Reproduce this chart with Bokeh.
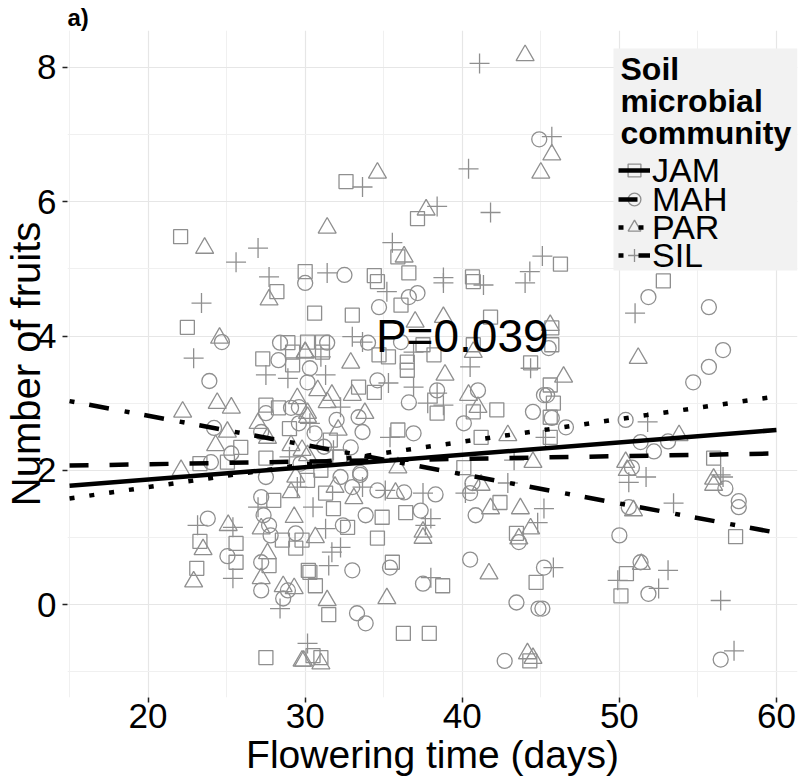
from bokeh.plotting import figure
from bokeh.models import Range1d, FixedTicker, Legend, LegendItem, Label, BoxAnnotation
from bokeh.core.properties import value
from bokeh.embed import file_html
from bokeh.resources import INLINE

FONT = "Liberation Sans"
GRAY = "#8f8f8f"

# ---- data: flowering time (days) vs number of fruits, per soil community ----
jam_x = [22.07, 30.0, 32.6, 37.15, 35.9, 36.6, 46.25, 34.4, 40.65, 22.5, 25.9, 25.05, 23.3, 28.2, 28.9,
         27.3, 29.2, 29.2, 30.15, 27.5, 28.3, 27.5, 34.6, 40.7, 30.6, 33.0, 36.1, 41.8, 31.1, 31.1,
         34.7, 35.3, 37.5, 38.2, 36.5, 36.5, 40.7, 44.35, 33.4, 34.4, 38.4, 42.2, 40.7, 41.2, 35.9,
         40.1, 31.0, 52.8, 45.7, 45.7, 45.6, 45.8, 45.6, 45.6, 56.0, 57.4, 50.45, 50.1, 44.7, 30.15,
         31.3, 42.4, 31.8, 34.9, 36.4, 43.45, 32.7, 29.8, 34.6, 30.3, 30.65, 35.55, 38.75, 31.5, 36.25,
         37.9, 31.0, 30.5, 44.3, 27.5, 23.3, 25.6, 25.6, 23.1, 28.0, 28.55, 29.4, 27.7, 30.2, 31.6,
         29.0, 32.2]
jam_y = [5.48, 4.96, 6.3, 5.75, 5.18, 4.94, 5.07, 4.9, 4.88, 4.13, 2.34, 2.12, 2.1, 4.66, 3.9,
         3.66, 3.76, 3.57, 3.91, 2.97, 2.93, 2.18, 4.81, 4.81, 4.34, 4.31, 4.46, 4.28, 3.91, 3.76,
         3.72, 3.69, 3.87, 3.72, 3.61, 3.49, 3.87, 3.6, 3.24, 3.16, 2.85, 2.9, 2.87, 2.49, 2.6,
         2.04, 2.0, 4.82, 4.12, 3.87, 3.27, 3.0, 2.79, 2.49, 2.18, 1.01, 0.46, 0.13, 0.33, 1.85,
         1.66, 1.52, 1.43, 1.3, 1.37, 1.06, 1.15, 0.96, 0.99, 0.48, 0.28, 0.63, 0.28, -0.15, -0.43,
         -0.43, -0.79, -0.76, -0.84, -0.79, 0.94, 0.91, 0.63, 0.54, 1.55, 0.96, 0.84, 0.58, 0.51, 2.45,
         2.62, 2.2]

mah_x = [32.5, 44.9, 24.7, 23.9, 24.2, 25.3, 24.0, 30.0, 28.4, 28.3, 30.3, 29.1, 29.6, 27.5, 27.2,
         29.6, 29.7, 36.6, 37.15, 34.7, 34.0, 36.1, 31.4, 30.15, 34.6, 38.4, 41.0, 36.6, 40.1, 36.9,
         44.5, 45.2, 33.4, 33.65, 32.9, 33.5, 51.85, 55.7, 45.5, 45.4, 45.7, 46.6, 54.7, 55.7, 56.6,
         50.4, 51.35, 52.2, 53.1, 50.8, 56.75, 57.6, 57.6, 50.6, 50.0, 45.2, 51.35, 51.85, 45.1, 56.45,
         32.25, 33.5, 33.0, 34.6, 36.3, 38.3, 40.65, 40.5, 33.85, 37.35, 40.85, 43.6, 32.4, 33.0, 35.4,
         37.5, 40.5, 43.45, 44.85, 33.3, 33.85, 42.7, 23.8, 25.05, 27.2, 27.35, 27.7, 29.4, 27.8, 27.2,
         27.2, 28.6, 28.9, 27.5, 31.2, 30.6, 32.0]
mah_y = [4.91, 6.93, 3.91, 3.33, 2.63, 2.25, 2.12, 4.79, 3.9, 3.64, 3.52, 2.93, 2.94, 2.85, 2.57,
         2.7, 2.1, 4.58, 4.64, 4.43, 3.9, 3.91, 3.9, 3.31, 3.34, 3.19, 3.19, 3.01, 2.7, 2.55,
         2.87, 3.12, 2.79, 2.57, 2.34, 1.96, 4.58, 4.43, 3.82, 3.12, 2.78, 2.64, 3.31, 3.54, 3.79,
         2.75, 2.42, 2.28, 2.43, 2.04, 1.73, 1.54, 1.45, 1.45, 1.03, 0.55, 0.63, 0.16, -0.06, -0.82,
         1.9, 1.93, 1.75, 1.7, 1.67, 1.64, 1.81, 1.66, 1.33, 1.4, 1.33, 0.93, 1.18, 0.51, 0.55,
         0.31, 0.67, 0.03, -0.06, -0.13, -0.28, -0.84, 1.28, 0.72, 1.6, 1.33, 1.18, 1.06, 1.03, 0.63,
         0.21, 0.09, 0.21, 1.9, 2.35, 2.55, 2.75]

par_x = [23.6, 44.0, 45.7, 45.0, 34.6, 31.4, 37.7, 36.3, 24.55, 24.4, 25.3, 22.2, 25.05, 24.3, 22.1,
         27.7, 30.0, 29.5, 27.0, 30.15, 27.6, 29.1, 29.8, 30.15, 37.0, 38.8, 30.0, 32.9, 38.9, 40.7,
         40.4, 41.0, 42.9, 31.7, 33.0, 33.8, 31.4, 30.15, 35.9, 44.5, 45.6, 51.2, 46.45, 53.8, 50.4,
         50.5, 56.0, 56.0, 50.9, 31.9, 33.1, 35.75, 41.2, 41.8, 43.7, 44.35, 43.6, 30.65, 37.5, 37.5,
         41.7, 31.4, 35.2, 31.0, 29.9, 44.15, 25.1, 23.5, 22.9, 27.2, 29.3, 29.1, 27.6, 27.2, 28.6,
         29.3, 29.8, 44.5, 51.4, 29.4, 30.8, 32.1]
par_y = [5.31, 8.18, 6.7, 6.43, 6.43, 5.61, 5.88, 5.18, 3.97, 3.0, 2.93, 2.87, 2.57, 2.37, 2.0,
         4.54, 3.75, 3.07, 2.7, 2.79, 2.48, 2.37, 2.3, 2.22, 4.21, 4.28, 3.76, 3.6, 3.42, 3.76,
         3.12, 2.94, 2.52, 3.12, 3.12, 2.85, 3.01, 2.85, 2.04, 2.12, 4.16, 3.67, 3.39, 2.52, 2.12,
         2.0, 1.87, 1.78, 1.4, 1.75, 1.58, 1.66, 1.78, 1.43, 1.43, 1.13, 0.98, 1.0, 0.99, 1.08,
         0.46, 0.06, 0.09, -0.88, -0.84, -0.73, 1.18, 0.82, 0.34, 1.13, 1.3, 1.67, 0.76, 0.39, 0.27,
         0.24, -0.84, -0.8, 0.6, 1.9, 3.19, 2.6]

sil_x = [27.0, 25.6, 27.7, 41.1, 45.7, 40.4, 33.65, 38.4, 41.8, 35.55, 45.1, 44.3, 31.4, 38.8, 23.4,
         22.9, 27.5, 28.9, 35.2, 38.8, 41.35, 44.0, 33.0, 33.65, 31.0, 36.9, 40.5, 44.35, 31.3, 35.3,
         36.9, 38.4, 37.8, 38.8, 35.4, 32.25, 30.3, 43.3, 51.0, 51.8, 45.3, 51.7, 56.6, 50.6, 56.45,
         53.45, 45.2, 45.8, 49.9, 52.5, 53.1, 56.45, 57.3, 33.65, 35.1, 37.5, 40.2, 42.9, 30.5, 38.0,
         44.8, 31.3, 37.65, 31.7, 32.25, 31.5, 38.0, 30.15, 23.15, 25.4, 25.4, 27.0, 28.4, 29.5, 31.8,
         29.0]
sil_y = [5.31, 5.1, 4.88, 8.06, 6.97, 6.49, 6.22, 5.93, 5.84, 5.39, 5.19, 4.96, 4.94, 4.87, 4.49,
         3.67, 3.42, 3.37, 4.66, 4.79, 4.76, 4.79, 3.99, 3.91, 3.69, 3.76, 3.54, 3.52, 3.42, 3.3,
         3.24, 3.15, 3.0, 2.97, 2.49, 2.94, 2.7, 2.15, 4.34, 2.72, 2.49, 1.9, 1.9, 1.82, 1.93,
         1.51, 1.43, 0.55, 0.36, 0.24, 0.51, 0.06, -0.69, 1.75, 1.7, 1.66, 1.66, 1.81, 1.45, 1.28,
         1.22, 1.13, 1.18, 0.78, 0.85, 0.58, 0.4, -0.58, 1.18, 1.15, 0.39, 1.45, -0.06, 1.75, 2.3,
         2.2]

# fitted regression lines (end points over the plotted range)
fit_x = [15, 60]
jam_fit = [1.77, 2.60]
mah_fit = [2.07, 2.25]
par_fit = [1.58, 3.10]
sil_fit = [3.03, 1.07]

groups = ["JAM", "MAH", "PAR", "SIL"]
legend_title = ["Soil", "microbial", "community"]
x_ticks = [20, 30, 40, 50, 60]
x_minor = [15, 25, 35, 45, 55]
y_ticks = [0, 2, 4, 6, 8]
y_minor = [-1, 1, 3, 5, 7]
p_label = "P=0.039"
p_pos = (40, 4)

FRAME_H = 672  # measured from the frame bottom, used for screen-unit annotations
FRAME_W = 730
p = figure(width=798, height=779, output_backend="svg", toolbar_location=None,
           x_range=Range1d(14.87, 61.34), y_range=Range1d(-1.385, 8.551),
           min_border_left=67, min_border_right=1, min_border_top=30, min_border_bottom=82)
p.outline_line_color = None
p.background_fill_color = "white"
p.border_fill_color = "white"

p.title.text = "a)"
p.title.text_font = FONT
p.title.text_font_style = "bold"
p.title.text_font_size = "24px"
p.title.text_color = "black"
p.title.align = "left"
p.title.standoff = 0
p.title.offset = 0

for ax, t, m in ((p.xaxis, x_ticks, x_minor), (p.yaxis, y_ticks, y_minor)):
    ax.ticker = FixedTicker(ticks=t, minor_ticks=m)
    ax.axis_line_color = None
    ax.major_tick_line_color = "#222222"
    ax.major_tick_line_width = 1.5
    ax.major_tick_out = 5
    ax.major_tick_in = 0
    ax.minor_tick_out = 0
    ax.minor_tick_in = 0
    ax.major_label_text_font = FONT
    ax.major_label_text_font_size = "35px"
    ax.major_label_text_color = "black"
    ax.axis_label_text_font = FONT
    ax.axis_label_text_font_style = "normal"
    ax.axis_label_text_color = "black"

p.xaxis.axis_label = "Flowering time (days)"
p.xaxis.axis_label_text_font_size = "39px"
p.xaxis.major_label_standoff = 1
p.xaxis.axis_label_standoff = 2
p.yaxis.axis_label = "Number of fruits"
p.yaxis.axis_label_text_font_size = "40px"
p.yaxis.major_label_standoff = 6
p.yaxis.axis_label_standoff = -14

for g in (p.xgrid, p.ygrid):
    g.grid_line_color = "#e6e6e6"
    g.grid_line_width = 1.2
    g.minor_grid_line_color = "#f0f0f0"
    g.minor_grid_line_width = 1.0

pt_style = dict(fill_color=None, line_color=GRAY, line_width=1.3)
r_jam = p.scatter(jam_x, jam_y, marker="square", size=14, **pt_style)
r_mah = p.scatter(mah_x, mah_y, marker="circle", size=15, **pt_style)
r_par = p.scatter(par_x, par_y, marker="triangle", size=18, **pt_style)
r_sil = p.scatter(sil_x, sil_y, marker="cross", size=20, **pt_style)

ln = dict(line_color="black", line_width=4.5)
l_jam = p.line(fit_x, jam_fit, **ln)
l_mah = p.line(fit_x, mah_fit, line_dash="19 21", **ln)
l_par = p.line(fit_x, par_fit, line_dash="5 15", **ln)
l_sil = p.line(fit_x, sil_fit, line_dash="5 15 20 16", **ln)

p.text(x=[p_pos[0]], y=[p_pos[1]], text=[p_label], text_font=value(FONT),
       text_font_size="46px", text_align="center", text_baseline="middle", text_color="black")

# legend: grey box, bold three-line title, one entry per community
p.add_layout(BoxAnnotation(left=546, right=FRAME_W, top=FRAME_H - 23, bottom=FRAME_H - 245,
                           left_units="screen", right_units="screen",
                           top_units="screen", bottom_units="screen",
                           fill_color="#f2f2f2", fill_alpha=1.0, line_color=None))
for i, t in enumerate(legend_title):
    p.add_layout(Label(x=553, y=FRAME_H - 43 - 32 * i, x_units="screen", y_units="screen",
                       text=t, text_font=FONT, text_font_style="bold", text_font_size="32px",
                       text_baseline="middle", text_color="black"))

item_bottoms = [507, 478, 450, 422]
for g, r, l, vy in zip(groups, (r_jam, r_mah, r_par, r_sil), (l_jam, l_mah, l_par, l_sil), item_bottoms):
    lg = Legend(items=[LegendItem(label=g, renderers=[r, l])], location=(551, vy))
    lg.label_text_font = FONT
    lg.label_text_font_size = "34px"
    lg.label_text_color = "black"
    lg.label_height = 40
    lg.glyph_height = 40
    lg.glyph_width = 32
    lg.label_standoff = 2
    lg.spacing = 0
    lg.padding = 0
    lg.margin = 0
    lg.background_fill_alpha = 0.0
    lg.border_line_color = None
    p.add_layout(lg)

open("out.html", "w").write(file_html(p, INLINE))
